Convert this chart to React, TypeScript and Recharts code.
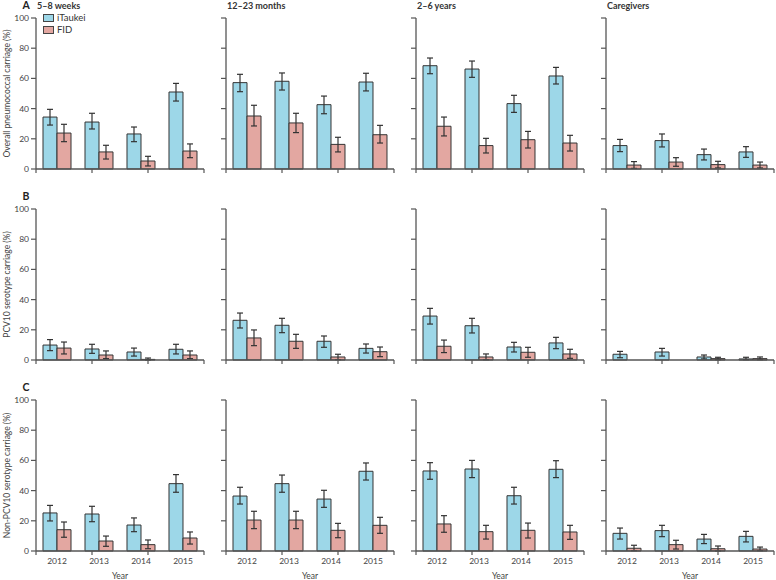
import React from 'react';
import { BarChart, Bar, XAxis, YAxis, ErrorBar, Legend } from 'recharts';

// ---------- categories & labels ----------
const years = ['2012', '2013', '2014', '2015'];
const panelTitles = ['5–8 weeks', '12–23 months', '2–6 years', 'Caregivers'];
const rowLetters = ['A', 'B', 'C'];
const rowYLabels = [
  'Overall pneumococcal carriage (%)',
  'PCV10 serotype carriage (%)',
  'Non-PCV10 serotype carriage (%)',
];
const xAxisTitle = 'Year';
const yTicks = [0, 20, 40, 60, 80, 100];
const bandEdges = [0, 1, 2, 3, 4];
const seriesNames = ['iTaukei', 'FID'];

// ---------- Row A: overall carriage (per panel: 2012..2015) ----------
const A_it_mean = [[34.4, 31.1, 23.2, 51.0], [57.2, 58.1, 42.6, 57.6], [68.4, 66.2, 43.3, 61.6], [15.5, 18.8, 9.5, 11.3]];
const A_it_lo = [[29.1, 26.5, 18.1, 45.0], [51.2, 52.3, 36.6, 51.7], [63.1, 60.7, 37.5, 56.3], [11.5, 14.6, 6.0, 7.7]];
const A_it_hi = [[39.5, 36.9, 27.8, 56.7], [62.7, 63.6, 48.3, 63.4], [73.5, 71.5, 48.8, 67.3], [19.6, 23.2, 13.2, 14.8]];
const A_fd_mean = [[23.8, 11.3, 5.3, 11.9], [35.1, 30.5, 16.3, 22.7], [28.3, 15.5, 19.4, 17.2], [2.6, 4.6, 2.9, 2.6]];
const A_fd_lo = [[18.1, 6.6, 2.0, 7.5], [28.5, 24.1, 11.3, 17.2], [21.9, 10.6, 13.9, 11.9], [0.4, 1.8, 0.7, 0.7]];
const A_fd_hi = [[29.6, 15.7, 8.4, 16.6], [42.2, 36.9, 21.0, 28.9], [34.4, 20.3, 24.9, 22.3], [4.9, 7.5, 5.1, 4.6]];

// ---------- Row B: PCV10 serotype carriage ----------
const B_it_mean = [[9.9, 7.3, 5.3, 7.1], [26.3, 23.0, 12.4, 7.7], [29.1, 22.7, 8.6, 11.3], [3.8, 5.3, 2.0, 0.7]];
const B_it_lo = [[6.2, 4.4, 2.6, 4.0], [21.2, 18.1, 8.4, 4.6], [23.8, 17.9, 5.3, 7.5], [1.5, 2.6, 0.7, 0.2]];
const B_it_hi = [[13.5, 10.4, 7.9, 10.4], [31.1, 27.6, 15.9, 10.6], [34.2, 27.6, 11.7, 15.0], [5.7, 7.7, 3.3, 1.8]];
const B_fd_mean = [[7.9, 3.3, 0.4, 3.3], [14.6, 12.4, 2.0, 5.5], [9.1, 2.0, 5.1, 4.0], [null, null, 0.9, 0.9]];
const B_fd_lo = [[4.0, 0.9, 0, 0.9], [9.5, 7.7, 0.2, 2.2], [4.9, 0.2, 1.8, 1.1], [null, null, 0.2, 0.2]];
const B_fd_hi = [[11.9, 6.0, 1.3, 6.0], [19.9, 17.0, 3.8, 8.6], [13.2, 4.0, 8.4, 7.1], [null, null, 1.8, 2.0]];

// ---------- Row C: non-PCV10 serotype carriage ----------
const C_it_mean = [[25.2, 24.5, 17.2, 44.6], [36.4, 44.6, 34.4, 52.8], [53.0, 54.3, 36.6, 54.1], [11.7, 13.5, 7.9, 9.7]];
const C_it_lo = [[19.9, 19.4, 12.8, 38.9], [31.1, 38.9, 28.9, 47.0], [47.5, 48.6, 31.1, 48.6], [7.9, 9.5, 4.9, 6.0]];
const C_it_hi = [[30.2, 29.6, 21.9, 50.6], [42.2, 50.3, 40.2, 58.3], [58.5, 60.0, 42.2, 59.8], [15.2, 17.0, 11.0, 13.0]];
const C_fd_mean = [[14.1, 6.6, 4.2, 8.6], [20.5, 20.5, 13.7, 17.0], [17.9, 12.8, 13.7, 12.6], [1.8, 4.2, 1.5, 1.3]];
const C_fd_lo = [[9.1, 3.1, 1.5, 4.6], [14.8, 14.8, 8.8, 11.7], [12.4, 7.9, 8.6, 7.7], [0.2, 1.3, 0, 0.2]];
const C_fd_hi = [[19.2, 9.9, 7.3, 12.6], [26.3, 26.3, 18.3, 22.3], [23.4, 17.0, 18.5, 17.0], [3.8, 7.1, 3.3, 2.6]];

// ---------- styles ----------
const BLUE = '#9dd7e8';
const RED = '#e3a7a1';
const SERIES_COLORS: Record<string, string> = { iTaukei: BLUE, FID: RED };
const OUTLINE = '#333';
const AXIS = '#555';
const FONT = 'Lato, "Open Sans", Arial, sans-serif';

const PLOT_LEFTS = [36, 226, 416, 606];
const PLOT_TOPS = [18, 209, 400];
const PW = 168;
const PH = 151;
const AXH = 0.01;
const M = { top: 5, right: 5, bottom: 25, left: 0 };
const YW = 36;

type Row = { year: string; it: number | null; itErr: number[] | null; fd: number | null; fdErr: number[] | null };

function err(m: number | null, lo: number | null, hi: number | null) {
  if (m == null || lo == null || hi == null) return null;
  return [m - lo, hi - m];
}

function buildRows(
  itM: (number | null)[], itL: (number | null)[], itH: (number | null)[],
  fdM: (number | null)[], fdL: (number | null)[], fdH: (number | null)[]
): Row[] {
  return years.map((year, i) => ({
    year,
    it: itM[i],
    itErr: err(itM[i], itL[i], itH[i]),
    fd: fdM[i],
    fdErr: err(fdM[i], fdL[i], fdH[i]),
  }));
}

const rowsData: Row[][][] = [
  [0, 1, 2, 3].map((p) => buildRows(A_it_mean[p], A_it_lo[p], A_it_hi[p], A_fd_mean[p], A_fd_lo[p], A_fd_hi[p])),
  [0, 1, 2, 3].map((p) => buildRows(B_it_mean[p], B_it_lo[p], B_it_hi[p], B_fd_mean[p], B_fd_lo[p], B_fd_hi[p])),
  [0, 1, 2, 3].map((p) => buildRows(C_it_mean[p], C_it_lo[p], C_it_hi[p], C_fd_mean[p], C_fd_lo[p], C_fd_hi[p])),
];

const LegendContent = () => (
  <div style={{ fontSize: 9.5, color: '#333', lineHeight: '12px', fontFamily: FONT }}>
    {seriesNames.map((name) => (
      <div key={name} style={{ display: 'flex', alignItems: 'center', height: 12 }}>
        <span
          style={{
            display: 'inline-block',
            width: 11,
            height: 8,
            background: SERIES_COLORS[name],
            border: '1px solid #444',
            boxSizing: 'border-box',
            marginRight: 3,
          }}
        />
        <span>{name}</span>
      </div>
    ))}
  </div>
);

const EmptyTick = () => <g />;

function Panel({ row, col }: { row: number; col: number }) {
  const data = rowsData[row][col];
  const showY = col === 0;
  const showX = row === 2;
  const showLegend = row === 0 && col === 0;
  return (
    <div style={{ position: 'absolute', left: PLOT_LEFTS[col] - YW, top: PLOT_TOPS[row] - M.top }}>
      <BarChart
        width={YW + PW + M.right}
        height={M.top + PH + M.bottom + 2 * AXH}
        data={data}
        margin={M}
        barCategoryGap={7}
        barGap={0}
      >
        <XAxis
          xAxisId="cat"
          dataKey="year"
          type="category"
          height={AXH}
          axisLine={false}
          tickLine={false}
          tickSize={0}
          tickMargin={7}
          interval={0}
          tick={showX ? { fontSize: 8.5, fill: '#444', fontFamily: FONT } : EmptyTick}
        />
        <XAxis
          xAxisId="edge"
          type="number"
          domain={[0, 4]}
          ticks={bandEdges}
          allowDataOverflow
          height={AXH}
          interval={0}
          tick={EmptyTick}
          tickSize={4}
          axisLine={{ stroke: AXIS, strokeWidth: 1.3 }}
          tickLine={{ stroke: AXIS, strokeWidth: 1.2 }}
        />
        <YAxis
          type="number"
          domain={[0, 100]}
          ticks={yTicks}
          interval={0}
          width={YW}
          tickSize={5}
          tickMargin={2}
          axisLine={{ stroke: AXIS, strokeWidth: 1.3 }}
          tickLine={{ stroke: AXIS, strokeWidth: 1.2 }}
          tick={showY ? { fontSize: 8.5, fill: '#444', fontFamily: FONT } : EmptyTick}
        />
        <Bar xAxisId="cat" dataKey="it" name={seriesNames[0]} fill={BLUE} stroke={OUTLINE} strokeWidth={1} isAnimationActive={false}>
          <ErrorBar dataKey="itErr" width={3} stroke={OUTLINE} strokeWidth={1.2} direction="y" />
        </Bar>
        <Bar xAxisId="cat" dataKey="fd" name={seriesNames[1]} fill={RED} stroke={OUTLINE} strokeWidth={1} isAnimationActive={false}>
          <ErrorBar dataKey="fdErr" width={3} stroke={OUTLINE} strokeWidth={1.2} direction="y" />
        </Bar>
        {showLegend && (
          <Legend
            layout="vertical"
            align="center"
            verticalAlign="middle"
            content={LegendContent}
            wrapperStyle={{ left: 43, top: -1, width: 'auto' }}
          />
        )}
      </BarChart>
    </div>
  );
}

export default function App() {
  return (
    <div style={{ position: 'absolute', left: 0, top: 0, width: 776, height: 580, background: '#fff', fontFamily: FONT }}>
      {[0, 1, 2].map((r) => [0, 1, 2, 3].map((c) => <Panel key={`${r}-${c}`} row={r} col={c} />))}
      <svg width={776} height={580} style={{ position: 'absolute', left: 0, top: 0, pointerEvents: 'none' }}>
        {rowLetters.map((l, r) => (
          <text key={l} x={22.5} y={PLOT_TOPS[r] - 9.5} fontSize={10.5} fontWeight={700} fill="#222" fontFamily={FONT}>
            {l}
          </text>
        ))}
        {panelTitles.map((t, c) => (
          <text key={t} x={PLOT_LEFTS[c] + 1} y={8.7} fontSize={9} fontWeight={700} fill="#333" fontFamily={FONT}>
            {t}
          </text>
        ))}
        {rowYLabels.map((t, r) => (
          <text
            key={t}
            transform={`translate(9.5, ${PLOT_TOPS[r] + PH / 2}) rotate(-90)`}
            textAnchor="middle"
            fontSize={8.5}
            fill="#444"
            fontFamily={FONT}
          >
            {t}
          </text>
        ))}
        {PLOT_LEFTS.map((x) => (
          <text key={x} x={x + PW / 2} y={579} textAnchor="middle" fontSize={8.5} fill="#444" fontFamily={FONT}>
            {xAxisTitle}
          </text>
        ))}
      </svg>
    </div>
  );
}
